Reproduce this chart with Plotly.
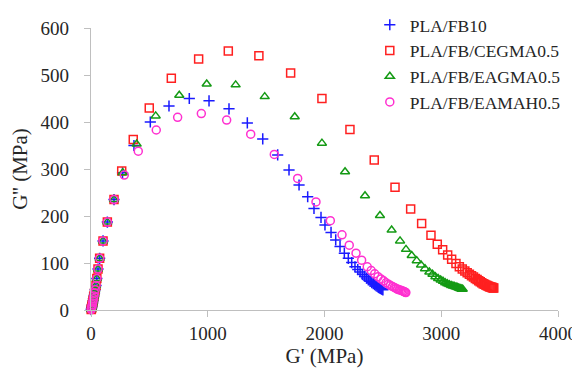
import plotly.graph_objects as go

# G' (MPa) and G'' (MPa) for each sample
fb10_gp = [2, 4, 6, 8, 11, 14, 17, 21, 25, 30, 36, 43, 50, 60, 74, 103, 140, 197, 270, 368, 508, 668, 842,
           1011, 1182, 1339, 1471, 1599, 1696, 1782, 1856, 1910, 1970, 2004, 2056, 2096, 2133, 2170, 2204,
           2233, 2261, 2285, 2305, 2325, 2343, 2360, 2376, 2391, 2405, 2418, 2430, 2441, 2451, 2461, 2470,
           2478, 2486, 2493, 2500]
fb10_gpp = [1, 3, 5, 8, 11, 15, 19, 24, 30, 36, 43, 52, 67, 87, 110, 147, 187, 235, 292, 350, 400, 434, 450,
            445, 428, 398, 364, 330, 298, 266, 241, 216, 197, 181, 165, 149, 135, 121, 110,
            101, 92, 86, 81, 76, 72, 68, 64, 61, 58, 56, 54, 52, 50, 48, 47,
            46, 45, 44, 43]

cegma_gp = [2, 4, 6, 8, 11, 14, 17, 21, 25, 30, 36, 43, 50, 60, 74, 103, 140, 197, 263, 362, 499, 688, 922,
            1176, 1438, 1710, 1978, 2218, 2426, 2604, 2738, 2832, 2912, 2966, 3012, 3055, 3089, 3126, 3155,
            3180, 3202, 3222, 3241, 3259, 3276, 3292, 3307, 3321, 3334, 3347, 3359, 3370, 3381, 3391, 3400,
            3409, 3417, 3425, 3432, 3438, 3444, 3450]
cegma_gpp = [1, 3, 5, 8, 11, 15, 19, 24, 30, 36, 43, 52, 67, 87, 110, 147, 187, 235, 296, 363, 430, 493, 534,
             551, 541, 504, 450, 384, 319, 261, 215, 184, 159, 140, 128, 117, 108, 99, 92,
             87, 83, 79, 76, 73, 70, 67, 65, 62, 60, 58, 56, 55, 53, 52, 51,
             50, 49, 49, 48, 48, 47, 47]

eagma_gp = [2, 4, 6, 8, 11, 14, 17, 21, 25, 30, 36, 43, 50, 60, 74, 103, 140, 197, 272, 391, 554, 756, 991,
            1239, 1488, 1745, 1978, 2176, 2347, 2475, 2575, 2647, 2698, 2747, 2790, 2827, 2861, 2898,
            2925, 2950, 2973, 2995, 3015, 3034, 3052, 3069, 3085, 3100, 3114, 3127, 3139, 3150, 3160,
            3169, 3177, 3184]
eagma_gpp = [1, 3, 5, 8, 11, 15, 19, 24, 30, 36, 43, 52, 67, 87, 110, 147, 187, 235, 292, 353, 413, 457, 481,
             479, 454, 411, 355, 294, 243, 201, 170, 147, 129, 116, 105, 96, 88, 81,
             76, 71, 67, 64, 61, 58, 56, 54, 52, 51, 50, 49, 48, 47, 46,
             45, 44, 44]

eamah_gp = [2, 4, 6, 8, 11, 14, 17, 21, 25, 30, 36, 43, 50, 60, 74, 103, 140, 197, 285, 405, 559, 742, 945,
            1162, 1368, 1570, 1770, 1927, 2050, 2150, 2212, 2270, 2318, 2366,
            2400, 2430, 2458, 2483, 2506, 2527, 2547, 2565, 2582, 2598, 2613, 2627, 2640, 2652, 2663,
            2673, 2682, 2690, 2697]
eamah_gpp = [1, 3, 5, 8, 11, 15, 19, 24, 30, 36, 43, 52, 67, 87, 110, 147, 187, 235, 287, 338, 383, 410, 418,
             404, 374, 331, 280, 230, 190, 160, 138, 121, 106, 92,
             84, 77, 71, 66, 62, 58, 55, 52, 50, 48, 46, 44, 43, 42, 41,
             40, 39, 38, 37]

x_ticks = [0, 1000, 2000, 3000, 4000]
y_ticks = [0, 100, 200, 300, 400, 500, 600]

FONT = "Liberation Serif"
TXT = "#262626"

fig = go.Figure()
series = [
    ("PLA/FB10", fb10_gp, fb10_gpp, "cross-thin-open", "#1a1aff", 8),
    ("PLA/FB/CEGMA0.5", cegma_gp, cegma_gpp, "square-open", "#ff2020", 8),
    ("PLA/FB/EAGMA0.5", eagma_gp, eagma_gpp, "triangle-up-open", "#149a14", 8),
    ("PLA/FB/EAMAH0.5", eamah_gp, eamah_gpp, "circle-open", "#ff30d0", 8),
]
for name, xs, ys, sym, col, sz in series:
    fig.add_trace(go.Scatter(
        x=xs, y=ys, mode="markers", name=name, cliponaxis=False,
        marker=dict(symbol=sym, size=sz, color=col, line=dict(color=col, width=1.5)),
    ))

fig.update_layout(
    width=580, height=368,
    margin=dict(l=83, r=30, t=20, b=66, autoexpand=False),
    paper_bgcolor="white", plot_bgcolor="white",
    font=dict(family=FONT, size=18, color=TXT),
    legend=dict(x=0.597, y=1.075, xanchor="left", yanchor="top",
                font=dict(family=FONT, size=17.5, color=TXT),
                bgcolor="rgba(0,0,0,0)", itemwidth=30, tracegroupgap=0),
    xaxis=dict(range=[0, 4000], tickvals=x_ticks, showgrid=False, zeroline=False,
               showline=True, linecolor="#bfbfbf", linewidth=1.3, automargin=False,
               ticks="outside", ticklen=6, tickcolor="#bfbfbf",
               tickfont=dict(family=FONT, size=19, color=TXT),
               title=dict(text="G' (MPa)", standoff=4, font=dict(family=FONT, size=21, color=TXT))),
    yaxis=dict(range=[0, 600], tickvals=y_ticks, showgrid=False, zeroline=False,
               showline=True, linecolor="#bfbfbf", linewidth=1.3, automargin=False,
               ticks="outside", ticklen=6, tickcolor="#bfbfbf", ticklabelstandoff=11,
               tickfont=dict(family=FONT, size=19, color=TXT),
               title=dict(text="G'' (MPa)", standoff=7, font=dict(family=FONT, size=21, color=TXT))),
)

fig.write_html("out.html")
